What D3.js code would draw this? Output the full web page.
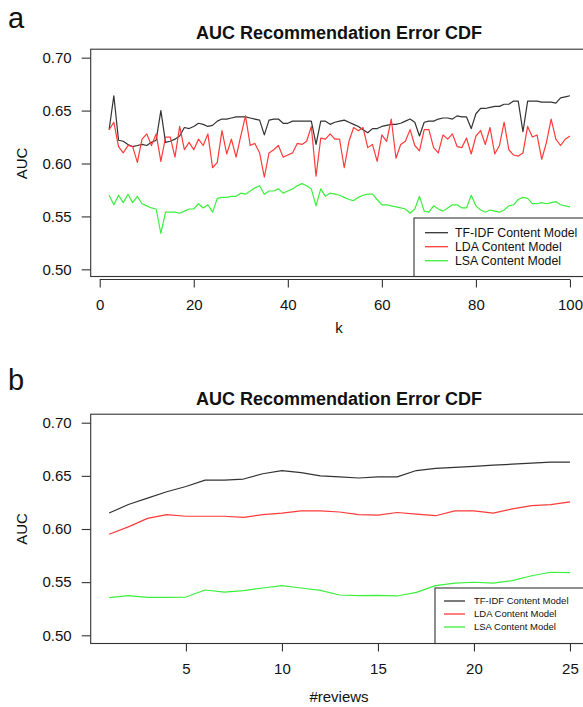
<!DOCTYPE html>
<html>
<head>
<meta charset="utf-8">
<script src="https://cdn.jsdelivr.net/npm/d3@7"></script>
<style>
html,body{margin:0;padding:0;background:#fff;}
svg{display:block;font-family:"Liberation Sans",Arial,Helvetica,sans-serif;}
</style>
</head>
<body>
<svg id="chart" width="583" height="707"></svg>
<script>
// ---------- DATA ----------
const kValues = [2,3,4,5,6,7,8,9,10,11,12,13,14,15,16,17,18,19,20,21,22,23,24,25,26,27,28,29,30,31,
  32,33,34,35,36,37,38,39,40,41,42,43,44,45,46,47,48,49,50,51,52,53,54,55,56,57,58,59,60,61,
  62,63,64,65,66,67,68,69,70,71,72,73,74,75,76,77,78,79,80,81,82,83,84,85,86,87,88,89,90,91,
  92,93,94,95,96,97,98,99,100];

const tfidfByK = [0.632,0.664,0.622,0.621,0.618,0.616,0.617,0.618,0.617,0.620,
  0.622,0.650,0.620,0.621,0.623,0.626,0.634,0.633,0.635,0.638,
  0.637,0.635,0.636,0.640,0.642,0.642,0.643,0.644,0.644,0.644,
  0.643,0.642,0.641,0.627,0.641,0.642,0.642,0.638,0.638,0.640,
  0.640,0.640,0.640,0.640,0.618,0.640,0.640,0.637,0.639,0.640,
  0.641,0.639,0.637,0.635,0.632,0.629,0.633,0.633,0.635,0.636,
  0.637,0.637,0.638,0.640,0.642,0.639,0.626,0.639,0.640,0.640,
  0.642,0.643,0.643,0.642,0.645,0.644,0.644,0.633,0.647,0.652,
  0.652,0.653,0.654,0.654,0.656,0.656,0.659,0.659,0.630,0.659,
  0.659,0.659,0.658,0.658,0.658,0.657,0.662,0.663,0.664];

const ldaByK = [0.632,0.639,0.616,0.610,0.617,0.616,0.601,0.623,0.628,0.617,
  0.628,0.602,0.625,0.625,0.606,0.635,0.613,0.620,0.613,0.623,
  0.617,0.628,0.596,0.601,0.631,0.609,0.623,0.606,0.626,0.645,
  0.617,0.619,0.610,0.587,0.610,0.613,0.617,0.606,0.608,0.610,
  0.619,0.618,0.621,0.635,0.588,0.624,0.623,0.628,0.623,0.623,
  0.596,0.621,0.634,0.631,0.634,0.615,0.618,0.602,0.627,0.621,
  0.642,0.605,0.618,0.621,0.632,0.617,0.612,0.632,0.632,0.615,
  0.610,0.627,0.623,0.628,0.616,0.615,0.624,0.609,0.626,0.631,
  0.618,0.634,0.609,0.617,0.639,0.613,0.608,0.607,0.610,0.635,
  0.625,0.627,0.604,0.620,0.642,0.623,0.617,0.623,0.626];

const lsaByK = [0.570,0.561,0.570,0.563,0.571,0.563,0.569,0.562,0.560,0.558,
  0.557,0.534,0.554,0.554,0.554,0.553,0.555,0.557,0.557,0.562,
  0.558,0.561,0.554,0.567,0.568,0.568,0.569,0.569,0.572,0.571,
  0.574,0.577,0.579,0.571,0.574,0.574,0.576,0.572,0.574,0.576,
  0.579,0.581,0.579,0.576,0.560,0.576,0.569,0.572,0.571,0.570,
  0.568,0.566,0.565,0.568,0.570,0.571,0.571,0.566,0.561,0.561,
  0.560,0.559,0.558,0.557,0.553,0.557,0.569,0.555,0.554,0.560,
  0.557,0.555,0.558,0.561,0.561,0.558,0.558,0.570,0.560,0.556,
  0.554,0.556,0.555,0.554,0.556,0.560,0.561,0.566,0.568,0.567,
  0.562,0.562,0.563,0.562,0.563,0.564,0.561,0.560,0.559];

const reviewValues = [1,2,3,4,5,6,7,8,9,10,11,12,13,14,15,16,17,18,19,20,21,22,23,24,25];
const tfidfByReviews = [0.615,0.623,0.629,0.635,0.640,0.646,0.646,0.647,0.652,0.655,
  0.653,0.650,0.649,0.648,0.649,0.649,0.655,0.657,0.658,0.659,0.660,0.661,0.662,0.663,0.663];
const ldaByReviews = [0.595,0.602,0.610,0.6135,0.612,0.612,0.612,0.611,0.6135,0.615,
  0.617,0.617,0.616,0.6135,0.613,0.6155,0.614,0.6125,0.617,0.617,0.615,0.619,0.622,0.623,0.6255];
const lsaByReviews = [0.5354,0.5373,0.5357,0.5357,0.536,0.5426,0.5407,0.542,0.5445,0.5467,
  0.5445,0.5423,0.5379,0.5373,0.5376,0.537,0.5404,0.5467,0.549,0.5499,0.549,0.5514,0.556,0.5593,0.559];

const seriesNames = ["TF-IDF Content Model","LDA Content Model","LSA Content Model"];
const seriesColors = ["#333333","#ff3a3a","#3cef3c"];
const yTicks = [0.50,0.55,0.60,0.65,0.70];
const kTicks = [0,20,40,60,80,100];
const reviewTicks = [5,10,15,20,25];
const chartTitle = "AUC Recommendation Error CDF";

// ---------- DRAW ----------
const svg = d3.select("#chart");
const axisColor = "#333";

function drawPanel(p) {
  const g = svg.append("g");
  const x = d3.scaleLinear().domain(p.xDomain).range([90.7, 588.4]);
  const y = d3.scaleLinear().domain([0.492, 0.708]).range([p.bottom, p.top]);

  // panel letter
  g.append("text").attr("x", 8).attr("y", p.letterY).attr("font-size", 29)
    .attr("fill", "#111").text(p.letter);
  // title
  g.append("text").attr("x", 339).attr("y", p.titleY).attr("text-anchor", "middle")
    .attr("font-size", 18).attr("font-weight", "bold").attr("fill", "#111").text(chartTitle);

  // frame
  g.append("rect").attr("x", x.range()[0]).attr("y", p.top)
    .attr("width", x.range()[1] - x.range()[0]).attr("height", p.frameBottom - p.top)
    .attr("fill", "none").attr("stroke", axisColor).attr("stroke-width", 1.1);

  // lines
  const line = d3.line().x(d => x(d[0])).y(d => y(d[1]));
  p.series.forEach((vals, i) => {
    const pts = p.xs.map((xv, j) => [xv, vals[j]]);
    g.append("path").datum(pts).attr("d", line).attr("fill", "none")
      .attr("stroke", seriesColors[i]).attr("stroke-width", 1.2).attr("stroke-linejoin", "round");
  });

  // y axis
  const yAxis = g.append("g").attr("transform", `translate(${x.range()[0]},0)`)
    .call(d3.axisLeft(y).tickValues(yTicks).tickFormat(d3.format(".2f")).tickSize(9).tickPadding(10));
  yAxis.select(".domain").remove();
  yAxis.selectAll("line").attr("stroke", axisColor).attr("stroke-width", 1.1);
  yAxis.selectAll("text").attr("font-size", 15).attr("fill", "#111")
    .attr("font-family", "Liberation Sans, Arial, sans-serif");

  // x axis
  const xAxis = g.append("g").attr("transform", `translate(0,${p.axisY})`)
    .call(d3.axisBottom(x).tickValues(p.xTicks).tickSize(8).tickPadding(12).tickSizeOuter(0));
  xAxis.select(".domain").attr("stroke", axisColor).attr("stroke-width", 1.1)
    .attr("d", `M${x(p.xTicks[0])},0H${x(p.xTicks[p.xTicks.length-1])}`);
  xAxis.selectAll("line").attr("stroke", axisColor).attr("stroke-width", 1.1);
  xAxis.selectAll("text").attr("font-size", 15).attr("fill", "#111")
    .attr("font-family", "Liberation Sans, Arial, sans-serif");

  // axis titles
  g.append("text").attr("transform", `translate(27,${(p.top + p.bottom) / 2}) rotate(-90)`)
    .attr("text-anchor", "middle").attr("font-size", 15).attr("fill", "#111").text("AUC");
  g.append("text").attr("x", 339).attr("y", p.xLabelY).attr("text-anchor", "middle")
    .attr("font-size", 15).attr("fill", "#111").text(p.xLabel);

  // legend
  const L = p.legend;
  g.append("rect").attr("x", L.x).attr("y", L.top).attr("width", 200).attr("height", p.frameBottom - L.top)
    .attr("fill", "#fff").attr("stroke", axisColor).attr("stroke-width", 1.1);
  seriesNames.forEach((name, i) => {
    const ry = L.firstRow + i * L.step;
    g.append("line").attr("x1", L.lineX1).attr("x2", L.lineX2).attr("y1", ry).attr("y2", ry)
      .attr("stroke", seriesColors[i]).attr("stroke-width", 1.3);
    g.append("text").attr("x", L.textX).attr("y", ry).attr("dy", "0.35em")
      .attr("font-size", L.fontSize).attr("fill", "#111").text(name);
  });
}

drawPanel({
  letter: "a", letterY: 28, titleY: 38.5,
  xDomain: [-1.92, 103.92], xs: kValues, xTicks: kTicks, xLabel: "k",
  series: [tfidfByK, ldaByK, lsaByK],
  top: 49.2, bottom: 277.8, frameBottom: 276.5, axisY: 279.5, xLabelY: 333,
  legend: {x: 414, top: 218, firstRow: 232.7, step: 14, lineX1: 425, lineX2: 448, textX: 455, fontSize: 12.3}
});

drawPanel({
  letter: "b", letterY: 390, titleY: 405,
  xDomain: [0.04, 25.96], xs: reviewValues, xTicks: reviewTicks, xLabel: "#reviews",
  series: [tfidfByReviews, ldaByReviews, lsaByReviews],
  top: 414.2, bottom: 643.8, frameBottom: 643.5, axisY: 643.5, xLabelY: 702,
  legend: {x: 435, top: 588, firstRow: 601, step: 13, lineX1: 444, lineX2: 465, textX: 474, fontSize: 9.5}
});
</script>
</body>
</html>
